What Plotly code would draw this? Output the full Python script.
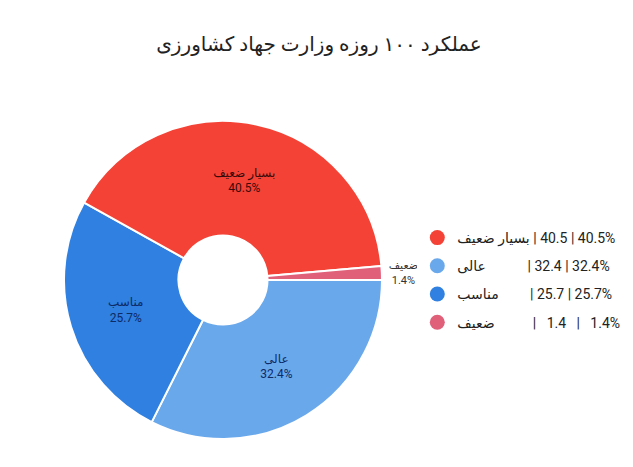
import plotly.graph_objects as go

# slices, in drawing order (clockwise from 3 o'clock)
slice_labels = ['عالی', 'مناسب', 'بسیار ضعیف', 'ضعیف']
slice_values = [32.4, 25.7, 40.5, 1.4]
slice_colors = ['#6aa8ec', '#2f80e0', '#f44336', '#e0607a']
text_colors = ['#0d2b66', '#0d2b66', '#3a0a0a', '#333333']
text_sizes = [12, 12, 12, 11]

# legend rows, in legend order
legend_names = ['بسیار ضعیف', 'عالی', 'مناسب', 'ضعیف']
legend_values = ['40.5', '32.4', '25.7', '1.4']
legend_pcts = ['40.5%', '32.4%', '25.7%', '1.4%']
legend_colors = ['#f44336', '#6aa8ec', '#2f80e0', '#e0607a']
name_pad = [0, 11, 8, 10]  # nbsp padding to line up the columns
num_pad = [0, 0, 0, 2]

title = 'عملکرد ۱۰۰ روزه وزارت جهاد کشاورزی'
font_family = 'Roboto, DejaVu Sans, sans-serif'

W, H = 633, 467
off = 8  # page margin around the plot div

fig = go.Figure()

fig.add_trace(go.Pie(
    labels=slice_labels,
    values=slice_values,
    sort=False,
    direction='clockwise',
    rotation=90,
    hole=0.28,
    marker=dict(colors=slice_colors, line=dict(color='white', width=2)),
    texttemplate='%{label}<br>%{percent:.1%}',
    textposition=['inside', 'inside', 'inside', 'outside'],
    insidetextorientation='horizontal',
    textfont=dict(size=text_sizes, color=text_colors, family=font_family),
    domain=dict(x=[(64 - off) / W, (382 - off) / W],
                y=[1 - (439 - off) / H, 1 - (121 - off) / H]),
    showlegend=False,
))

# legend-only traces so the legend order matches the reference
nb = '\u00a0'
for name, val, pct, col, p1, p2 in zip(legend_names, legend_values, legend_pcts,
                                        legend_colors, name_pad, num_pad):
    label = f'\u200e{name}\u200e{nb * p1} | {nb * p2}{val}{nb * p2} | {nb * p2}{pct}\u200e'
    fig.add_trace(go.Scatter(
        x=[None], y=[None], mode='markers',
        marker=dict(size=15, color=col),
        name=label,
        legendgroup=name,
    ))

fig.update_layout(
    width=W, height=H,
    margin=dict(l=0, r=0, t=0, b=0),
    paper_bgcolor='white', plot_bgcolor='white',
    title=dict(text=title, x=(319 - off) / W, xanchor='center', y=1 - (44 - off) / H,
               yanchor='middle', font=dict(size=20, color='#222', family=font_family)),
    font=dict(family=font_family, color='#222'),
    legend=dict(x=0.6466, y=1 - (222 - off) / H, xanchor='left', yanchor='top',
                font=dict(size=14, color='#222'), tracegroupgap=7,
                itemwidth=30),
    xaxis=dict(visible=False),
    yaxis=dict(visible=False),
)

fig.write_html('out.html')
